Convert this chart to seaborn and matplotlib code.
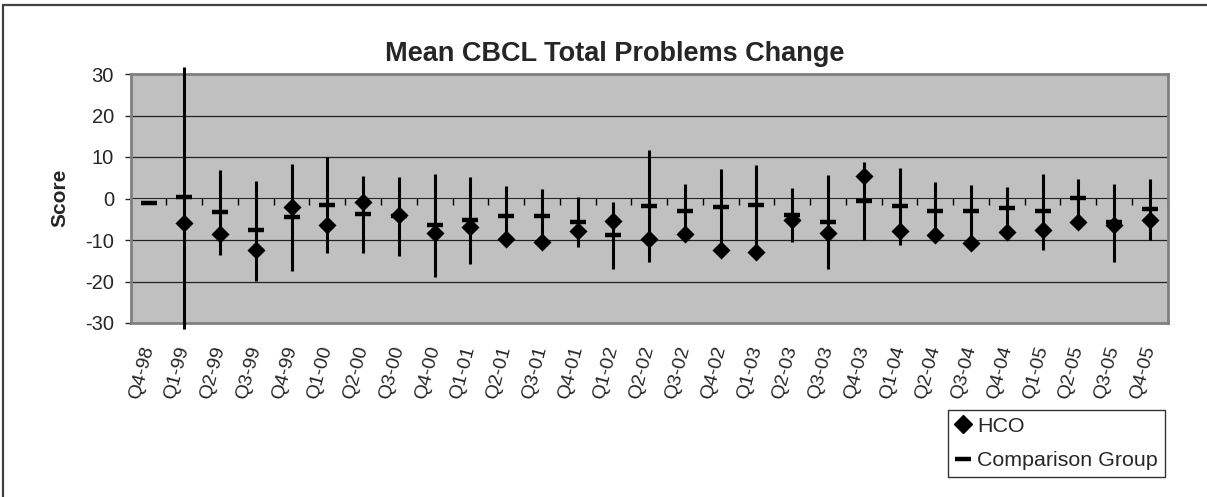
import numpy as np
import pandas as pd
import seaborn as sns
import matplotlib.pyplot as plt
from matplotlib.lines import Line2D
from matplotlib.patches import Rectangle

# quarters on the x axis
quarters = ["Q4-98", "Q1-99", "Q2-99", "Q3-99", "Q4-99", "Q1-00", "Q2-00", "Q3-00",
            "Q4-00", "Q1-01", "Q2-01", "Q3-01", "Q4-01", "Q1-02", "Q2-02", "Q3-02",
            "Q4-02", "Q1-03", "Q2-03", "Q3-03", "Q4-03", "Q1-04", "Q2-04", "Q3-04",
            "Q4-04", "Q1-05", "Q2-05", "Q3-05", "Q4-05"]

# HCO mean change (diamonds)
hco = [np.nan, -6.0, -8.5, -12.5, -2.0, -6.5, -0.8, -4.0,
       -8.2, -6.9, -9.8, -10.6, -7.9, -5.4, -9.7, -8.6,
       -12.5, -12.8, -5.1, -8.2, 5.4, -7.9, -8.9, -10.8,
       -8.1, -7.7, -5.6, -6.3, -5.2]

# comparison group mean change (dashes)
comparison = [-1.2, 0.4, -3.3, -7.7, -4.5, -1.5, -3.7, -4.2,
              -6.3, -5.1, -4.1, -4.2, -5.7, -8.7, -1.7, -3.1,
              -2.1, -1.5, -3.9, -5.6, -0.5, -1.8, -3.1, -2.9,
              -2.2, -3.0, 0.2, -5.6, -2.5]

# high / low of the range line
high = [np.nan, 31.8, 6.9, 4.2, 8.2, 10.1, 5.5, 5.2,
        6.0, 5.3, 2.9, 2.3, 0.3, -0.8, 11.7, 3.4,
        7.0, 8.1, 2.6, 5.6, 8.7, 7.3, 3.9, 3.2,
        2.7, 6.0, 4.7, 3.5, 4.8]
low = [np.nan, -31.5, -13.7, -19.8, -17.5, -13.1, -13.1, -13.9,
       -18.8, -15.7, -9.8, -10.6, -11.7, -16.9, -15.2, -8.6,
       -12.5, -12.8, -10.6, -17.1, -10.1, -11.1, -8.9, -10.8,
       -8.1, -12.3, -5.6, -15.2, -10.1]

df = pd.DataFrame({'quarter': quarters, 'pos': np.arange(len(quarters)),
                   'hco': hco, 'comparison': comparison, 'high': high, 'low': low})

sns.set_style("white")
plt.rcParams['font.family'] = ['Liberation Sans', 'DejaVu Sans']
plt.rcParams['axes.unicode_minus'] = False

fig = plt.figure(figsize=(12.07, 4.97), dpi=100)
ax = fig.add_axes([130.7 / 1207, 174 / 497, 1037 / 1207, 249 / 497])
ax.set_facecolor('#c0c0c0')

# high-low lines
ax.vlines(df['pos'], df['low'], df['high'], color='black', lw=2.2, clip_on=False, zorder=3)

sns.scatterplot(data=df, x='pos', y='hco', marker='D', s=85, color='black',
                edgecolor='black', linewidth=0, ax=ax, zorder=4)
sns.scatterplot(data=df, x='pos', y='comparison', marker='_', s=140, color='black',
                linewidth=3.2, ax=ax, zorder=4)

ax.set_xlim(-0.5, len(quarters) - 0.5)
ax.set_ylim(-30, 30)
ax.set_yticks(range(-30, 31, 10))
ax.tick_params(axis='y', labelsize=14.5, length=4, width=1, direction='out', left=True, pad=8)
for y in [-20, -10, 10, 20]:
    ax.axhline(y, color='#222222', lw=0.9, zorder=1)

ax.set_xticks(df['pos'])
ax.set_xticklabels(quarters, rotation=75, ha='right', va='center',
                   rotation_mode='anchor', fontsize=14)
ax.tick_params(axis='x', length=0, pad=17)
ax.set_xlabel('')
ax.set_ylabel('')

for s in ax.spines.values():
    s.set_color('#808080')
    s.set_linewidth(2)

# x axis crossing at zero with ticks between categories
zero_axis = ax.secondary_xaxis(0.5)
zero_axis.set_xticks(np.arange(len(quarters) + 1) - 0.5)
zero_axis.set_xticklabels([])
zero_axis.tick_params(axis='x', direction='in', length=5, width=1, color='black')
zero_axis.spines['bottom'].set_color('black')
zero_axis.spines['bottom'].set_linewidth(1.2)

fig.text(615 / 1207, 1 - 54 / 497, 'Mean CBCL Total Problems Change', ha='center',
         va='center', fontsize=19.5, fontweight='bold')
fig.text(60 / 1207, 1 - 198 / 497, 'Score', ha='center', va='center', rotation=90,
         fontsize=15, fontweight='bold')

handles = [Line2D([], [], marker='D', color='black', ls='none', markersize=9),
           Line2D([], [], marker='_', color='black', ls='none', markersize=12, markeredgewidth=3.2)]
leg = fig.legend(handles, ['HCO', 'Comparison Group'], loc='upper left',
                 bbox_to_anchor=(948 / 1207, 1 - 410 / 497), fontsize=15.4, frameon=True,
                 fancybox=False, handlelength=0.8, handletextpad=0.25, labelspacing=0.72,
                 borderpad=0.32, borderaxespad=0, edgecolor='black')
leg.get_frame().set_linewidth(1)

fig.patches.append(Rectangle((3 / 1207, -0.1), 1.1, 1 - 5 / 497 + 0.1, transform=fig.transFigure,
                             fill=False, edgecolor='#404040', lw=1.6))

fig.savefig('out.png', dpi=100)
